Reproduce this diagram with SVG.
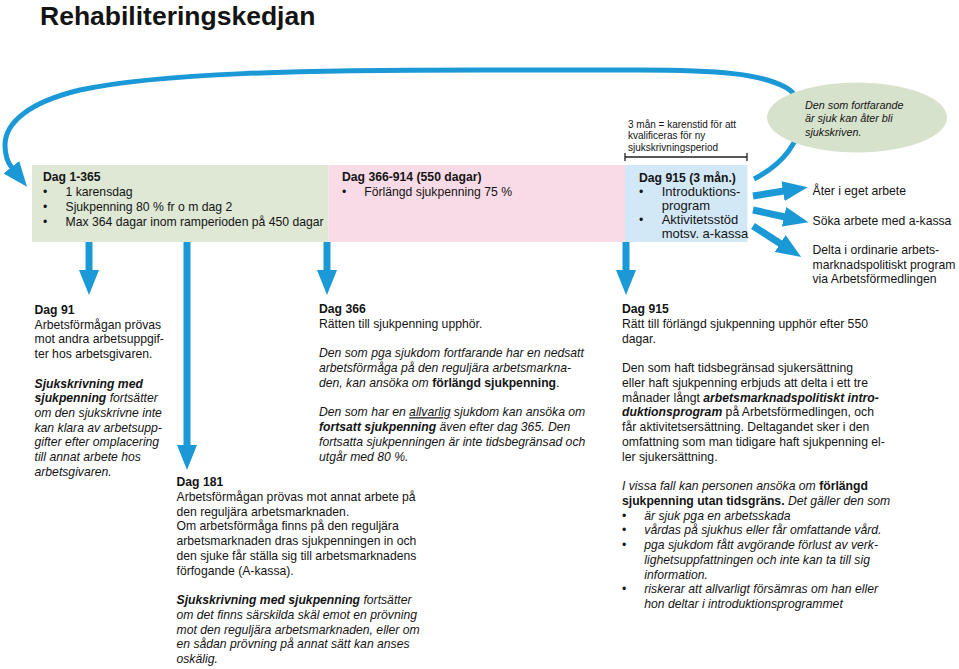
<svg xmlns="http://www.w3.org/2000/svg" width="959" height="669" viewBox="0 0 959 669">
<defs>
<style>
.t{font-family:"Liberation Sans",Arial,Helvetica,sans-serif;font-size:12.2px;fill:#141414}
.b{font-weight:bold}
.i{font-style:italic}
.bi{font-weight:bold;font-style:italic}
.u{text-decoration:underline}
.sm{font-size:10px}
.el{font-size:10.8px;font-style:italic}
.c{stroke:#1b99d6;fill:none;marker-end:url(#ah)}
.sh{stroke-width:7}
</style>
<marker id="ah" viewBox="0 0 25 20" refX="1" refY="10" markerWidth="25" markerHeight="20" markerUnits="userSpaceOnUse" orient="auto">
<path d="M0,0 L25,10 L0,20 z" fill="#1b99d6"/>
</marker>
</defs>
<rect width="959" height="669" fill="#ffffff"/>

<g id="title">
<text class="t b" x="40" y="25" style="font-size:26.5px">Rehabiliteringskedjan</text>
</g>

<g id="connectors">
<path class="c" stroke-width="5" d="M754,179 C785,163 800,140 800,120 C800,100 795,92 785,87 C760,74 720,70 640,70 L480,70 C300,70 160,73 80,90 C30,102 5,122 5,145 C5,155 8,163 12,168"/>
<line class="c sh" x1="89" y1="242" x2="89" y2="271"/>
<line class="c sh" x1="187" y1="242" x2="187" y2="446"/>
<line class="c sh" x1="327" y1="242" x2="327" y2="271"/>
<line class="c sh" x1="626" y1="242" x2="626" y2="271"/>
<line class="c sh" x1="753" y1="196" x2="784" y2="191"/>
<line class="c sh" x1="753" y1="210" x2="785" y2="217"/>
<line class="c sh" x1="753" y1="226" x2="781" y2="244"/>
</g>

<g id="box-dag1-365">
<rect x="32" y="165" width="296.5" height="77" fill="#dee8d5"/>
<text class="t b" x="43" y="181">Dag 1-365</text>
<text class="t" x="43" y="196">•</text><text class="t" x="65.5" y="196">1 karensdag</text>
<text class="t" x="43" y="211">•</text><text class="t" x="65.5" y="211">Sjukpenning 80 % fr o m dag 2</text>
<text class="t" x="43" y="226">•</text><text class="t" x="65.5" y="226">Max 364 dagar inom ramperioden på 450 dagar</text>
</g>

<g id="box-dag366-914">
<rect x="328.5" y="165" width="296.5" height="77" fill="#f8dbe6"/>
<text class="t b" x="342" y="181">Dag 366-914 (550 dagar)</text>
<text class="t" x="342" y="196">•</text><text class="t" x="364.3" y="196">Förlängd sjukpenning 75 %</text>
</g>

<g id="box-dag915">
<rect x="625" y="165" width="122.5" height="77" fill="#d3e8f7"/>
<text class="t b" x="639" y="182">Dag 915 (3 mån.)</text>
<text class="t" x="639" y="196">•</text><text class="t" x="661.7" y="196" style="font-size:13px">Introduktions-</text>
<text class="t" x="661.7" y="210" style="font-size:13px">program</text>
<text class="t" x="639" y="224">•</text><text class="t" x="661.7" y="224" style="font-size:13px">Aktivitetsstöd</text>
<text class="t" x="661.7" y="238" style="font-size:13px">motsv. a-kassa</text>
</g>

<g id="karenstid-note">
<text class="t sm" x="628" y="127.5">3 mån = karenstid för att</text>
<text class="t sm" x="628" y="139">kvalificeras för ny</text>
<text class="t sm" x="628" y="150.5">sjukskrivningsperiod</text>
<path d="M625,157 H747 M625,153 V161 M747,153 V161" stroke="#222" stroke-width="1.3" fill="none"/>
</g>

<g id="note-ellipse">
<ellipse cx="857" cy="117.5" rx="90" ry="35" fill="#d6e2cb"/>
<text class="t el" x="805" y="108.5">Den som fortfarande</text>
<text class="t el" x="805" y="122">är sjuk kan åter bli</text>
<text class="t el" x="805" y="135.5">sjukskriven.</text>
</g>

<g id="outcome-ater">
<text class="t" x="812.5" y="194.5">Åter i eget arbete</text>
</g>
<g id="outcome-soka">
<text class="t" x="812.5" y="225">Söka arbete med a-kassa</text>
</g>
<g id="outcome-delta">
<text class="t" x="812.5" y="253.5">Delta i ordinarie arbets-</text>
<text class="t" x="812.5" y="268.5">marknadspolitiskt program</text>
<text class="t" x="812.5" y="283">via Arbetsförmedlingen</text>
</g>

<g id="text-dag91">
<text class="t" x="34.5" y="314"><tspan class="b">Dag 91</tspan></text>
<text class="t" x="34.5" y="328.7">Arbetsförmågan prövas</text>
<text class="t" x="34.5" y="343.4">mot andra arbetsuppgif-</text>
<text class="t" x="34.5" y="358.1">ter hos arbetsgivaren.</text>
<text class="t bi" x="34.5" y="387.5">Sjukskrivning med</text>
<text class="t i" x="34.5" y="402.2"><tspan class="bi">sjukpenning</tspan> fortsätter</text>
<text class="t i" x="34.5" y="416.9">om den sjukskrivne inte</text>
<text class="t i" x="34.5" y="431.6">kan klara av arbetsupp-</text>
<text class="t i" x="34.5" y="446.3">gifter efter omplacering</text>
<text class="t i" x="34.5" y="461">till annat arbete hos</text>
<text class="t i" x="34.5" y="475.7">arbetsgivaren.</text>
</g>

<g id="text-dag181">
<text class="t b" x="176.5" y="486">Dag 181</text>
<text class="t" x="176.5" y="500.75">Arbetsförmågan prövas mot annat arbete på</text>
<text class="t" x="176.5" y="515.5">den reguljära arbetsmarknaden.</text>
<text class="t" x="176.5" y="530.25">Om arbetsförmåga finns på den reguljära</text>
<text class="t" x="176.5" y="545">arbetsmarknaden dras sjukpenningen in och</text>
<text class="t" x="176.5" y="559.75">den sjuke får ställa sig till arbetsmarknadens</text>
<text class="t" x="176.5" y="574.5">förfogande (A-kassa).</text>
<text class="t i" x="176.5" y="604"><tspan class="bi">Sjukskrivning med sjukpenning</tspan> fortsätter</text>
<text class="t i" x="176.5" y="618.75">om det finns särskilda skäl emot en prövning</text>
<text class="t i" x="176.5" y="633.5">mot den reguljära arbetsmarknaden, eller om</text>
<text class="t i" x="176.5" y="648.25">en sådan prövning på annat sätt kan anses</text>
<text class="t i" x="176.5" y="663">oskälig.</text>
</g>

<g id="text-dag366">
<text class="t b" x="319" y="313">Dag 366</text>
<text class="t" x="319" y="327.75">Rätten till sjukpenning upphör.</text>
<text class="t i" x="319" y="357.25">Den som pga sjukdom fortfarande har en nedsatt</text>
<text class="t i" x="319" y="372">arbetsförmåga på den reguljära arbetsmarkna-</text>
<text class="t i" x="319" y="386.75">den, kan ansöka om <tspan class="b" style="font-style:normal">förlängd sjukpenning</tspan><tspan style="font-style:normal">.</tspan></text>
<text class="t i" x="319" y="416.25">Den som har en <tspan class="u">allvarlig</tspan> sjukdom kan ansöka om</text>
<text class="t i" x="319" y="431"><tspan class="bi">fortsatt sjukpenning</tspan> även efter dag 365. Den</text>
<text class="t i" x="319" y="445.75">fortsatta sjukpenningen är inte tidsbegränsad och</text>
<text class="t i" x="319" y="460.5">utgår med 80 %.</text>
</g>

<g id="text-dag915">
<text class="t b" x="622" y="313">Dag 915</text>
<text class="t" x="622" y="327.75">Rätt till förlängd sjukpenning upphör efter 550</text>
<text class="t" x="622" y="342.5">dagar.</text>
<text class="t" x="622" y="372">Den som haft tidsbegränsad sjukersättning</text>
<text class="t" x="622" y="386.75">eller haft sjukpenning erbjuds att delta i ett tre</text>
<text class="t" x="622" y="401.5">månader långt <tspan class="bi">arbetsmarknadspolitiskt intro-</tspan></text>
<text class="t" x="622" y="416.25"><tspan class="bi">duktionsprogram</tspan> på Arbetsförmedlingen, och</text>
<text class="t" x="622" y="431">får aktivitetsersättning. Deltagandet sker i den</text>
<text class="t" x="622" y="445.75">omfattning som man tidigare haft sjukpenning el-</text>
<text class="t" x="622" y="460.5">ler sjukersättning.</text>
<text class="t i" x="622" y="490">I vissa fall kan personen ansöka om <tspan class="b" style="font-style:normal">förlängd</tspan></text>
<text class="t i" x="622" y="504.75"><tspan class="b" style="font-style:normal">sjukpenning utan tidsgräns.</tspan> Det gäller den som</text>
<text class="t" x="622" y="519.5">•</text><text class="t i" x="644.3" y="519.5">är sjuk pga en arbetsskada</text>
<text class="t" x="622" y="534.25">•</text><text class="t i" x="644.3" y="534.25">vårdas på sjukhus eller får omfattande vård.</text>
<text class="t" x="622" y="549">•</text><text class="t i" x="644.3" y="549">pga sjukdom fått avgörande förlust av verk-</text>
<text class="t i" x="644.3" y="563.75">lighetsuppfattningen och inte kan ta till sig</text>
<text class="t i" x="644.3" y="578.5">information.</text>
<text class="t" x="622" y="593.25">•</text><text class="t i" x="644.3" y="593.25">riskerar att allvarligt försämras om han eller</text>
<text class="t i" x="644.3" y="608">hon deltar i introduktionsprogrammet</text>
</g>
</svg>
